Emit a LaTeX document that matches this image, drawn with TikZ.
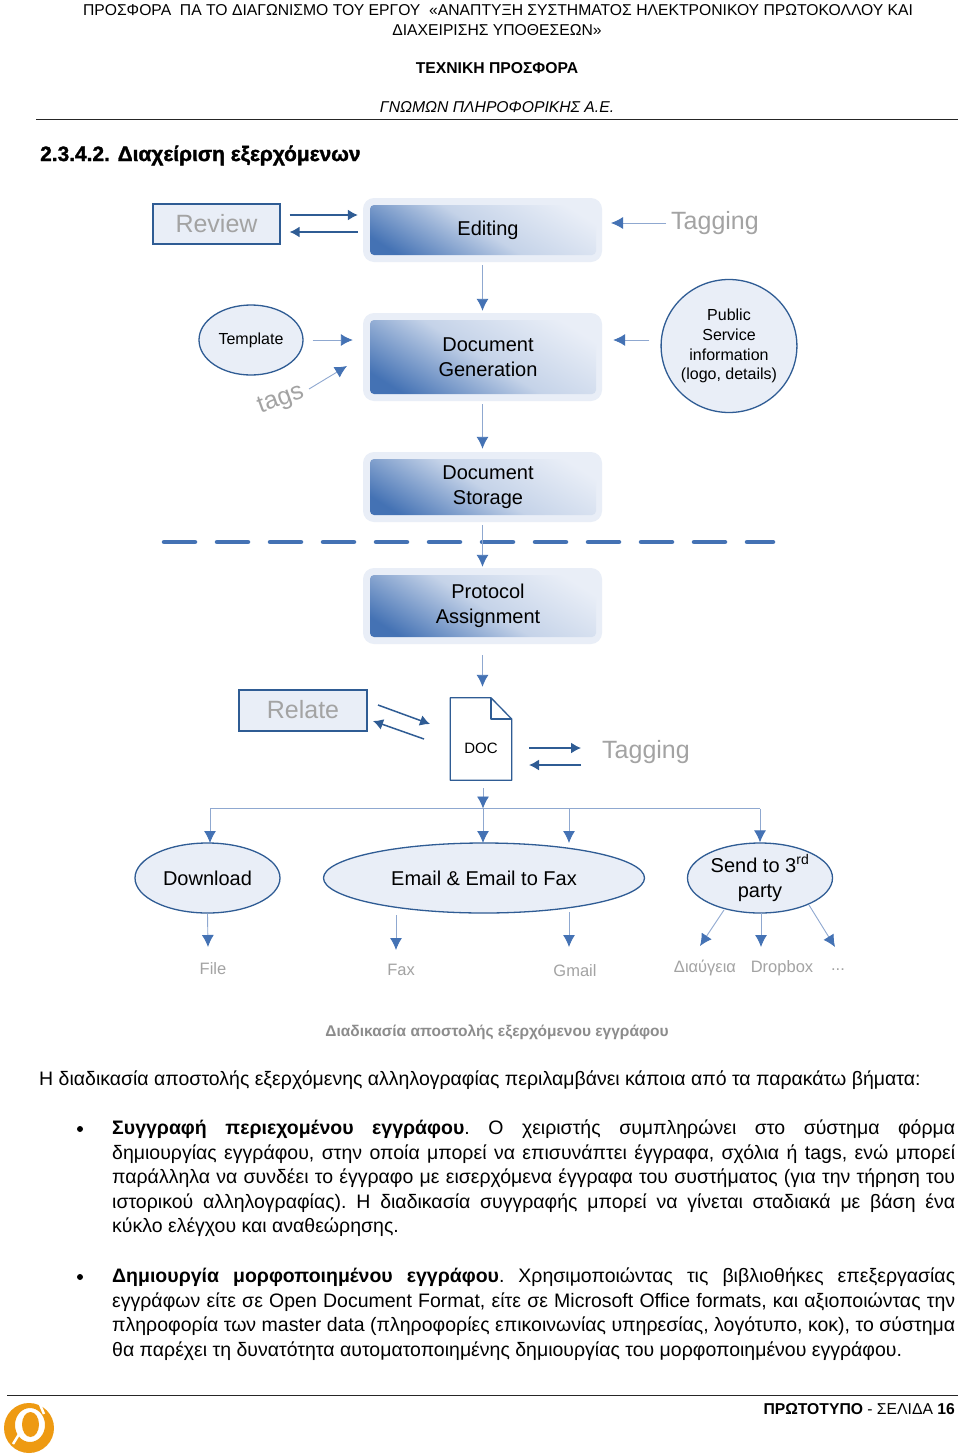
\documentclass[tikz,border=0pt]{standalone}
\usepackage{fontspec}
\setmainfont{Liberation Sans}
\newfontface\titlefont[FakeBold=1.5]{Liberation Sans Bold}
\usetikzlibrary{arrows.meta, shapes.geometric}
\definecolor{paleblue}{HTML}{E9EEF7}
\definecolor{darkline}{HTML}{2F5C94}
\definecolor{midblue}{HTML}{4472B4}
\definecolor{busblue}{HTML}{8FA8D0}
\definecolor{greytext}{HTML}{A3A3A3}
\definecolor{logoorange}{HTML}{EE9A12}
\tikzset{
  flow/.style={draw=busblue, line width=0.9pt, -{Latex[length=12pt,width=12pt,color=midblue]}},
  strongflow/.style={draw=darkline, line width=1.5pt, -{Latex[length=10pt,width=11pt,color=darkline]}},
  stagebox/.style={fill=paleblue, rounded corners=11pt, minimum width=239pt, align=center, inner sep=0pt,
    font=\fontsize{20}{25}\selectfont,
    path picture={\shade[rounded corners=4pt, top color=paleblue, bottom color=midblue, middle color=paleblue!78!midblue, shading angle=-32]
      ([xshift=7pt,yshift=-7pt]path picture bounding box.north west) rectangle ([xshift=-6pt,yshift=7pt]path picture bounding box.south east);}},
  sidebox/.style={draw=darkline, line width=1.3pt, fill=paleblue, text=greytext, inner sep=0pt, font=\fontsize{25}{30}\selectfont},
  bubble/.style={ellipse, draw=darkline, line width=1.3pt, fill=paleblue, inner sep=0pt, align=center},
  greylabel/.style={text=greytext, inner sep=0pt, font=\fontsize{25}{30}\selectfont},
  targetlabel/.style={text=greytext, inner sep=0pt, font=\fontsize{16.5}{20}\selectfont},
  headline/.style={inner sep=0pt, align=center, font=\fontsize{15.7}{20}\selectfont},
  bodypara/.style={anchor=north west, inner sep=0pt, text width=843pt, align=justify, font=\fontsize{19.5}{24.5}\selectfont\frenchspacing},
  bulletdot/.style={circle, fill=black, inner sep=0pt, minimum size=6pt}
}
\begin{document}
\begin{tikzpicture}[x=1pt,y=-1pt]
        \useasboundingbox (0,0) rectangle (960,1456);
        \fill[white] (0,0) rectangle (960,1456);

        % page header
        \node[headline] (headA) at (498,10) {ΠΡΟΣΦΟΡΑ\ \ ΠΑ ΤΟ ΔΙΑΓΩΝΙΣΜΟ ΤΟΥ ΕΡΓΟΥ\ \ «ΑΝΑΠΤΥΞΗ ΣΥΣΤΗΜΑΤΟΣ ΗΛΕΚΤΡΟΝΙΚΟΥ ΠΡΩΤΟΚΟΛΛΟΥ ΚΑΙ};
        \node[headline] (headB) at (497,30) {ΔΙΑΧΕΙΡΙΣΗΣ ΥΠΟΘΕΣΕΩΝ»};
        \node[headline] (headC) at (497,68) {\bfseries ΤΕΧΝΙΚΗ ΠΡΟΣΦΟΡΑ};
        \node[headline] (headD) at (497,107) {\itshape ΓΝΩΜΩΝ ΠΛΗΡΟΦΟΡΙΚΗΣ Α.Ε.};
        \coordinate (ruleL) at (36,119);
        \coordinate (ruleR) at (958,119);
        \draw[line width=1pt, black!85] (ruleL) -- (ruleR);
        \node[anchor=west, inner sep=0pt, font=\fontsize{20.9}{25}\titlefont] (title) at (40,155.5) {2.3.4.2. Διαχείριση εξερχόμενων};

        % main stages
        \node[stagebox, minimum height=64pt] (editing) at (482.5,230) {\hspace{11pt}\raisebox{-6pt}{Editing}};
        \node[stagebox, minimum height=88pt] (generation) at (482.5,357) {\hspace{11pt}Document\\\hspace{11pt}Generation};
        \node[stagebox, minimum height=70pt] (storage) at (482.5,487) {\raisebox{-2pt}{\hspace{11pt}Document}\\\raisebox{-2pt}{\hspace{11pt}Storage}};
        \node[stagebox, minimum height=76pt] (protocol) at (482.5,606) {\raisebox{-1pt}{\hspace{11pt}Protocol}\\\raisebox{-1pt}{\hspace{11pt}Assignment}};

        \node[sidebox, minimum width=127pt, minimum height=40pt] (review) at (216.5,224) {Review};
        \node[greylabel] (tagA) at (715,223) {Tagging};
        \node[bubble, minimum width=104pt, minimum height=70pt, font=\fontsize{16}{20}\selectfont] (template) at (251,340) {Template};
        \node[bubble, minimum width=133pt, minimum height=133pt, font=\fontsize{16}{19.8}\selectfont] (public) at (729,346) {Public\\Service\\information\\(logo, details)};
        \node[greylabel, rotate=20] (tags) at (281,400) {tags};

        \coordinate (tagsA) at (309,389);
        \coordinate (tagsB) at (347,366);
        \coordinate (tagEditA) at (666,223);
        \coordinate (tagEditB) at (611,223);
        \draw[strongflow, shorten <=9pt, shorten >=5pt] ([yshift=9pt]review.east) -- ([yshift=15pt]editing.west);
        \draw[strongflow, shorten <=5pt, shorten >=9pt] ([yshift=-2pt]editing.west) -- ([yshift=-8pt]review.east);
        \draw[flow] (tagEditA) -- (tagEditB);
        \draw[flow, shorten <=3pt, shorten >=2pt] (editing.south) -- (generation.north);
        \draw[flow, shorten <=9pt, shorten >=10pt] (template.east) -- ([yshift=17pt]generation.west);
        \draw[flow] (tagsA) -- (tagsB);
        \draw[flow, shorten <=11pt, shorten >=11pt] ([yshift=6pt]public.west) -- ([yshift=17pt]generation.east);
        \draw[flow, shorten <=3pt, shorten >=3pt] (generation.south) -- (storage.north);

        % boundary between the two parts
        \coordinate (cutL) at (164,542);
        \coordinate (cutR) at (773,542);
        \draw[midblue, line width=4.5pt, line cap=round, dash pattern=on 31pt off 22pt] (cutL) -- (cutR);
        \draw[flow, shorten <=3pt, shorten >=1pt] (storage.south) -- (protocol.north);

        % the document
        \node[minimum width=61pt, minimum height=82pt, inner sep=0pt] (doc) at (481,739) {};
        \coordinate (fold) at (491,719);
        \draw[darkline, line width=1.3pt, fill=white, line join=round] (doc.south west) -- (doc.north west) -- (doc.north west -| fold) -- (doc.east |- fold) -- (doc.south east) -- cycle;
        \draw[darkline, line width=1.3pt, line join=round] (doc.north west -| fold) -- (fold) -- (doc.east |- fold);
        \node[inner sep=0pt, font=\fontsize{15}{18}\selectfont] (doctext) at (481,748) {DOC};
        \node[sidebox, minimum width=128pt, minimum height=41pt] (relate) at (303,710.5) {\raisebox{1.5pt}{Relate}};
        \node[greylabel] (tagB) at (646,752) {Tagging};

        \coordinate (relOutA) at (378,705);
        \coordinate (relOutB) at (430,724);
        \coordinate (relBackA) at (424,739);
        \coordinate (relBackB) at (373,721);
        \coordinate (tagOutA) at (529,748);
        \coordinate (tagOutB) at (581,748);
        \coordinate (tagBackA) at (581,765);
        \coordinate (tagBackB) at (529,765);
        \draw[strongflow] (relOutA) -- (relOutB);
        \draw[strongflow] (relBackA) -- (relBackB);
        \draw[strongflow] (tagOutA) -- (tagOutB);
        \draw[strongflow] (tagBackA) -- (tagBackB);
        \draw[flow, shorten <=11pt, shorten >=11pt] (protocol.south) -- (doc.north -| protocol.south);

        % output channels
        \node[bubble, minimum width=145pt, minimum height=70pt, font=\fontsize{20}{25}\selectfont] (download) at (207.5,878) {Download};
        \node[bubble, minimum width=321pt, minimum height=70pt, font=\fontsize{20}{25}\selectfont] (email) at (484,878) {Email \& Email to Fax};
        \node[bubble, minimum width=145pt, minimum height=70pt, font=\fontsize{20}{25}\selectfont] (send) at (760,878) {Send to 3\textsuperscript{rd}\\party};

        \coordinate (busL) at (210,808.5);
        \coordinate (busM) at (483,808.5);
        \coordinate (busG) at (569,808.5);
        \coordinate (busR) at (760,808.5);
        \coordinate (dropL) at (210,843);
        \coordinate (dropM) at (483,843);
        \coordinate (dropG) at (569,843);
        \draw[draw=busblue, line width=1pt] (busL) -- (busR);
        \draw[flow, shorten <=8pt] (doc.south -| busM) -- (busM);
        \draw[flow] (busL) -- (dropL);
        \draw[flow] (busM) -- (dropM);
        \draw[flow] (busG) -- (dropG);
        \draw[flow] (busR) -- (send.north);

        \node[targetlabel] (file) at (213,969) {File};
        \node[targetlabel] (fax) at (401,970) {Fax};
        \node[targetlabel] (gmail) at (575,971) {Gmail};
        \node[targetlabel] (diavgeia) at (705,968) {Διαύγεια};
        \node[targetlabel] (dropbox) at (782,968) {Dropbox};
        \node[targetlabel] (more) at (838,970) {...};

        \coordinate (faxA) at (396,915);
        \coordinate (faxB) at (396,950);
        \coordinate (gmailA) at (569,912);
        \coordinate (gmailB) at (569,947);
        \coordinate (fileB) at (208,947);
        \coordinate (diaA) at (724,910);
        \coordinate (diaB) at (700,946);
        \coordinate (dropA) at (761,913);
        \coordinate (dropB) at (761,947);
        \coordinate (moreA) at (809,905);
        \coordinate (moreB) at (835,947);
        \draw[flow] (download.south) -- (fileB);
        \draw[flow] (faxA) -- (faxB);
        \draw[flow] (gmailA) -- (gmailB);
        \draw[flow] (diaA) -- (diaB);
        \draw[flow] (dropA) -- (dropB);
        \draw[flow] (moreA) -- (moreB);

        % text below the figure
        \node[inner sep=0pt, text=black!45, font=\fontsize{15.5}{20}\selectfont\bfseries] (caption) at (497,1032) {Διαδικασία αποστολής εξερχόμενου εγγράφου};
        \node[anchor=west, inner sep=0pt, font=\fontsize{19.5}{24.5}\selectfont] (intro) at (39,1080) {Η διαδικασία αποστολής εξερχόμενης αλληλογραφίας περιλαμβάνει κάποια από τα παρακάτω βήματα:};
        \node[bulletdot] (bulA) at (80,1129) {};
        \node[bodypara] (paraA) at (112,1120) {\textbf{Συγγραφή περιεχομένου εγγράφου}. Ο χειριστής συμπληρώνει στο σύστημα φόρμα\linebreak δημιουργίας εγγράφου, στην οποία μπορεί να επισυνάπτει έγγραφα, σχόλια ή tags, ενώ μπορεί\linebreak παράλληλα να συνδέει το έγγραφο με εισερχόμενα έγγραφα του συστήματος (για την τήρηση του\linebreak ιστορικού αλληλογραφίας). Η διαδικασία συγγραφής μπορεί να γίνεται σταδιακά με βάση ένα\linebreak κύκλο ελέγχου και αναθεώρησης.};
        \node[bulletdot] (bulB) at (80,1277) {};
        \node[bodypara] (paraB) at (112,1268) {\textbf{Δημιουργία μορφοποιημένου εγγράφου}. Χρησιμοποιώντας τις βιβλιοθήκες επεξεργασίας\linebreak εγγράφων είτε σε Open Document Format, είτε σε Microsoft Office formats, και αξιοποιώντας την\linebreak πληροφορία των master data (πληροφορίες επικοινωνίας υπηρεσίας, λογότυπο, κοκ), το σύστημα\linebreak θα παρέχει τη δυνατότητα αυτοματοποιημένης δημιουργίας του μορφοποιημένου εγγράφου.};

        % page footer
        \coordinate (footL) at (7,1395);
        \coordinate (footR) at (958,1395);
        \draw[line width=1pt, black!85] (footL) -- (footR);
        \node[anchor=east, inner sep=0pt, font=\fontsize{15.7}{20}\selectfont] (pageno) at (955,1409) {\textbf{ΠΡΩΤΟΤΥΠΟ} - ΣΕΛΙΔΑ \textbf{16}};
        \coordinate (logo) at (29,1428);
        \fill[logoorange, even odd rule] (logo) circle[radius=25] ([xshift=1pt,yshift=3pt]logo) ellipse[x radius=15, y radius=17];
        \fill[logoorange] ([xshift=1.5pt,yshift=3.5pt]logo) ellipse[x radius=8.5, y radius=12.5];
        \draw[white, line width=2.5pt] (13,1444) -- (21,1431);
        \draw[white, line width=2.5pt] (39,1402) -- (44,1414);
\end{tikzpicture}
\end{document}
